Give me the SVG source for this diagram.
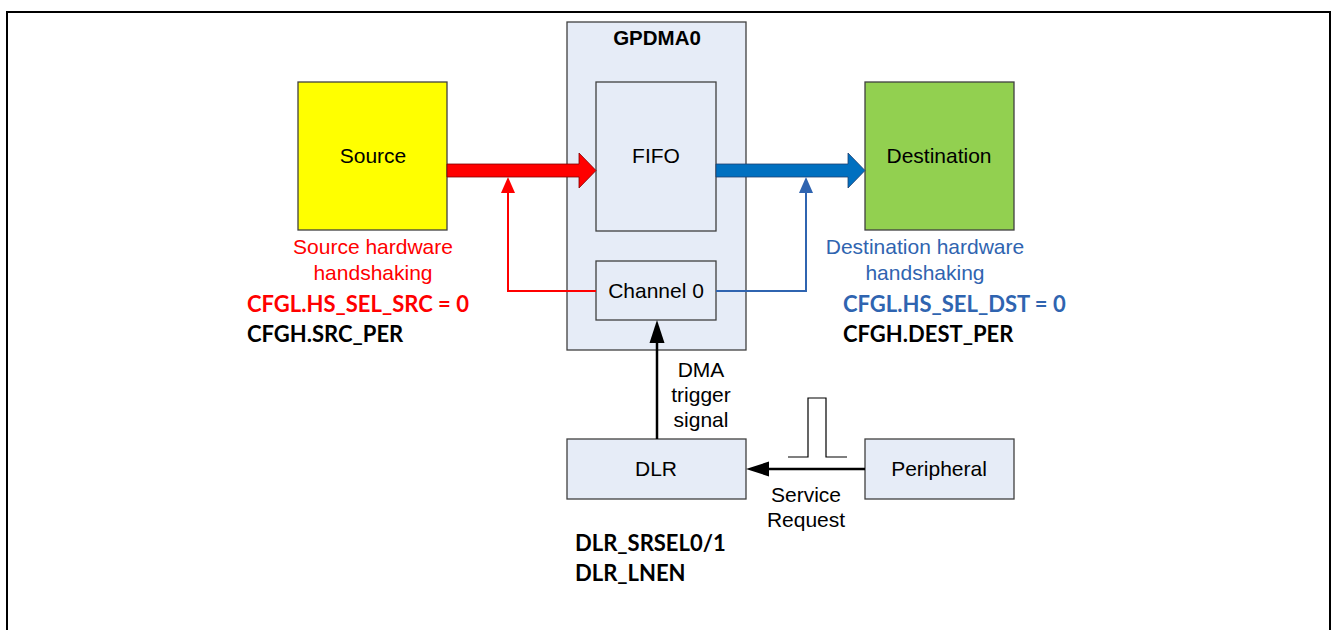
<svg xmlns="http://www.w3.org/2000/svg" width="1332" height="630" viewBox="0 0 1332 630">
<defs>
<style>
.box{fill:#E6ECF7;stroke:#404040;stroke-width:1.3}
.t{font-family:"Liberation Sans",Arial,sans-serif;font-size:21px;fill:#000;text-anchor:middle}
.reg{font-family:Lato,"Open Sans",sans-serif;font-size:22px;font-weight:bold}
</style>
</defs>
<rect x="7" y="12" width="1323" height="630" fill="none" stroke="#000" stroke-width="2"/>
<g id="gpdma0"><rect class="box" x="567" y="22" width="179" height="328"/><text x="657" y="45" class="t" style="font-weight:bold;font-size:20.5px">GPDMA0</text></g>
<g id="fifo"><rect class="box" x="596" y="82" width="120" height="149"/><text x="656" y="163" class="t">FIFO</text></g>
<g id="channel0"><rect class="box" x="596" y="261" width="120" height="59"/><text x="656" y="298" class="t">Channel 0</text></g>
<g id="source"><rect x="298" y="82" width="149" height="148" fill="#FFFF00" stroke="#404040" stroke-width="1.3"/><text x="373" y="163" class="t">Source</text></g>
<g id="destination"><rect x="865" y="82" width="149" height="148" fill="#92D050" stroke="#404040" stroke-width="1.3"/><text x="939" y="163" class="t">Destination</text></g>
<g id="dlr"><rect class="box" x="567" y="439" width="179" height="60"/><text x="656" y="476" class="t">DLR</text></g>
<g id="peripheral"><rect class="box" x="865" y="439" width="149" height="60"/><text x="939" y="476" class="t">Peripheral</text></g>
<g id="connectors">
<path d="M447,164 L579,164 L579,153 L596,170.5 L579,188 L579,177 L447,177 z" fill="#FF0000" stroke="#7F0000" stroke-width="0.8"/>
<path d="M716,164 L848,164 L848,153 L865,170.5 L848,188 L848,177 L716,177 z" fill="#0070C0" stroke="#1F3F6F" stroke-width="0.8"/>
<path d="M596,291 L508,291 L508,192" fill="none" stroke="#FF0000" stroke-width="2"/>
<path d="M508,177 L501,193 L515,193 z" fill="#FF0000"/>
<path d="M716,291 L806,291 L806,192" fill="none" stroke="#2F64B0" stroke-width="2"/>
<path d="M806,177 L799,193 L813,193 z" fill="#2F64B0"/>
<path d="M657,439 L657,340" fill="none" stroke="#000" stroke-width="2.5"/>
<path d="M657,320 L649.5,343 L664.5,343 z" fill="#000"/>
<path d="M865,469 L768,469" fill="none" stroke="#000" stroke-width="2.5"/>
<path d="M746,469 L769,461.5 L769,476.5 z" fill="#000"/>
<path d="M788,457 L808,457 L808,398 L826,398 L826,457 L847,457" fill="none" stroke="#000" stroke-width="1.2"/>
</g>
<g id="labels">
<text class="t" x="373" y="254" style="fill:#FF0000">Source hardware</text>
<text class="t" x="373" y="280" style="fill:#FF0000">handshaking</text>
<text class="t" x="925" y="254" style="fill:#2F64B0">Destination hardware</text>
<text class="t" x="925" y="280" style="fill:#2F64B0">handshaking</text>
<text class="reg" x="247" y="312" fill="#FF0000">CFGL.HS_SEL_SRC = 0</text>
<text class="reg" x="247" y="342" fill="#000">CFGH.SRC_PER</text>
<text class="reg" x="843" y="312" fill="#2F64B0">CFGL.HS_SEL_DST = 0</text>
<text class="reg" x="843" y="342" fill="#000">CFGH.DEST_PER</text>
<text class="t" x="701" y="377">DMA</text>
<text class="t" x="701" y="402">trigger</text>
<text class="t" x="701" y="427">signal</text>
<text class="t" x="806" y="502">Service</text>
<text class="t" x="806" y="527">Request</text>
<text class="reg" x="575" y="551" fill="#000">DLR_SRSEL0/1</text>
<text class="reg" x="575" y="581" fill="#000">DLR_LNEN</text>
</g>
</svg>
